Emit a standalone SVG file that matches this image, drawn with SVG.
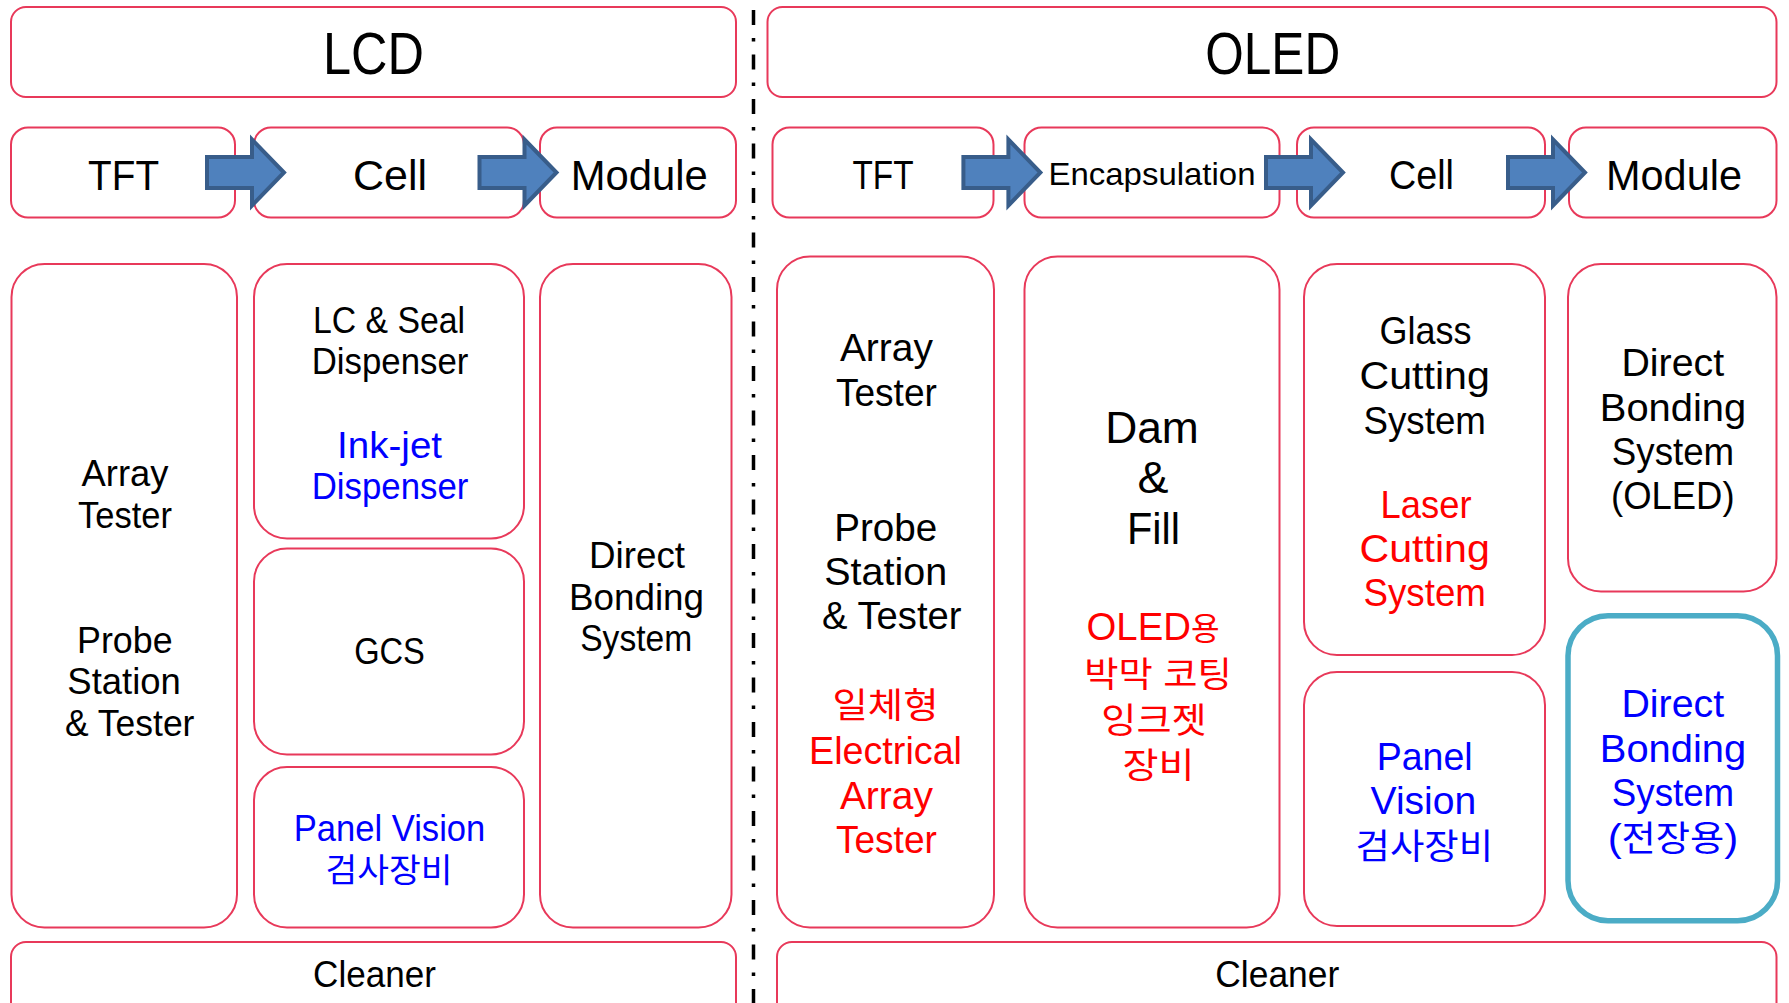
<svg xmlns="http://www.w3.org/2000/svg" width="1789" height="1003" viewBox="0 0 1789 1003">
<defs>
<style>
.box{fill:#fff;stroke:#E8395A;stroke-width:2}
.teal{fill:#fff;stroke:#4BACC6;stroke-width:5.5}
text{font-family:"Liberation Sans","Noto Sans CJK KR",sans-serif;text-anchor:middle;fill:#000}
.b{fill:#0000FF}
.r{fill:#FF0000}
.L{font-size:36.5px}
.O{font-size:39.5px}
.arrow{fill:#4F81BD;stroke:#385D8A;stroke-width:4;stroke-linejoin:miter}
</style>
<path id="arr" class="arrow" d="M2,157 H47 V139.5 L79,172.5 L47,205.5 V188 H2 Z"/>
</defs>
<rect x="0" y="0" width="1789" height="1003" fill="#fff"/>

<g id="divider"><line x1="753.5" y1="10" x2="753.5" y2="1003" stroke="#000" stroke-width="3.5" stroke-dasharray="15 13 3.5 13"/></g>

<!-- LCD side -->
<g id="lcd-title"><rect class="box" x="11" y="7" width="725" height="90" rx="15"/><text x="373.5" y="74" font-size="59" textLength="101" lengthAdjust="spacingAndGlyphs">LCD</text></g>
<g id="lcd-tft"><rect class="box" x="11" y="127.5" width="224" height="90" rx="17"/><text x="123.6" y="190" font-size="43" textLength="71" lengthAdjust="spacingAndGlyphs">TFT</text></g>
<g id="lcd-cell"><rect class="box" x="254" y="127.5" width="270" height="90" rx="17"/><text x="390" y="190" font-size="43" textLength="74" lengthAdjust="spacingAndGlyphs">Cell</text></g>
<g id="lcd-module"><rect class="box" x="540" y="127.5" width="196" height="90" rx="17"/><text x="639.3" y="190" font-size="43" textLength="137" lengthAdjust="spacingAndGlyphs">Module</text></g>

<g id="lcd-tester"><rect class="box" x="11.5" y="264" width="225.5" height="663.5" rx="33"/>
<text class="L" x="125" y="486.3" textLength="87" lengthAdjust="spacingAndGlyphs">Array</text>
<text class="L" x="125" y="527.6" textLength="94" lengthAdjust="spacingAndGlyphs">Tester</text>
<text class="L" x="124.8" y="652.5" textLength="95.5" lengthAdjust="spacingAndGlyphs">Probe</text>
<text class="L" x="124.1" y="694.3" textLength="113.5" lengthAdjust="spacingAndGlyphs">Station</text>
<text class="L" x="129.7" y="736" textLength="129.5" lengthAdjust="spacingAndGlyphs">&amp; Tester</text></g>
<g id="lcd-dispenser"><rect class="box" x="254" y="264" width="270" height="274.5" rx="33"/>
<text class="L" x="389" y="332.6" textLength="152" lengthAdjust="spacingAndGlyphs">LC &amp; Seal</text>
<text class="L" x="390" y="374" textLength="156.7" lengthAdjust="spacingAndGlyphs">Dispenser</text>
<text class="L b" x="389.6" y="457.5" textLength="105" lengthAdjust="spacingAndGlyphs">Ink-jet</text>
<text class="L b" x="390" y="498.8" textLength="156.7" lengthAdjust="spacingAndGlyphs">Dispenser</text></g>
<g id="lcd-gcs"><rect class="box" x="254" y="548.5" width="270" height="206" rx="33"/><text class="L" x="389.5" y="664" textLength="70.7" lengthAdjust="spacingAndGlyphs">GCS</text></g>
<g id="lcd-panel"><rect class="box" x="254" y="767" width="270" height="160.5" rx="33"/>
<text class="L b" x="389.5" y="840.8" textLength="191.6" lengthAdjust="spacingAndGlyphs">Panel Vision</text>
<text class="b" x="389" y="881.5" font-size="33.5" textLength="127" lengthAdjust="spacingAndGlyphs">검사장비</text></g>
<g id="lcd-bonding"><rect class="box" x="540" y="264" width="191.5" height="663.5" rx="33"/>
<text class="L" x="637" y="568" textLength="96" lengthAdjust="spacingAndGlyphs">Direct</text>
<text class="L" x="636.5" y="610.2" textLength="135" lengthAdjust="spacingAndGlyphs">Bonding</text>
<text class="L" x="636.2" y="651" textLength="112" lengthAdjust="spacingAndGlyphs">System</text></g>
<g id="lcd-cleaner"><rect class="box" x="11" y="942" width="725" height="80" rx="15"/><text class="L" x="374.5" y="987.3" textLength="122.8" lengthAdjust="spacingAndGlyphs">Cleaner</text></g>

<!-- OLED side -->
<g id="oled-title"><rect class="box" x="767.5" y="7" width="1009" height="90" rx="15"/><text x="1272.7" y="74" font-size="59" textLength="135" lengthAdjust="spacingAndGlyphs">OLED</text></g>
<g id="oled-tft"><rect class="box" x="772.5" y="127.5" width="221" height="90" rx="17"/><text x="883" y="188.5" font-size="40.5" textLength="61" lengthAdjust="spacingAndGlyphs">TFT</text></g>
<g id="oled-encap"><rect class="box" x="1024.5" y="127.5" width="255" height="90" rx="17"/><text x="1152" y="185" font-size="32" textLength="207" lengthAdjust="spacingAndGlyphs">Encapsulation</text></g>
<g id="oled-cell"><rect class="box" x="1297" y="127.5" width="248" height="90" rx="17"/><text x="1421.5" y="188.5" font-size="40.5" textLength="65" lengthAdjust="spacingAndGlyphs">Cell</text></g>
<g id="oled-module"><rect class="box" x="1569" y="127.5" width="207.5" height="90" rx="17"/><text x="1674" y="190" font-size="43" textLength="136" lengthAdjust="spacingAndGlyphs">Module</text></g>

<g id="oled-tester"><rect class="box" x="777" y="256.5" width="217" height="671" rx="33"/>
<text class="O" x="886.4" y="361.4" textLength="93" lengthAdjust="spacingAndGlyphs">Array</text>
<text class="O" x="886.4" y="406" textLength="101" lengthAdjust="spacingAndGlyphs">Tester</text>
<text class="O" x="885.7" y="540.6" textLength="103" lengthAdjust="spacingAndGlyphs">Probe</text>
<text class="O" x="885.7" y="584.8" textLength="123" lengthAdjust="spacingAndGlyphs">Station</text>
<text class="O" x="891.8" y="629.4" textLength="139.4" lengthAdjust="spacingAndGlyphs">&amp; Tester</text>
<text class="r" x="885.5" y="718" font-size="35" textLength="106" lengthAdjust="spacingAndGlyphs">일체형</text>
<text class="O r" x="885.5" y="764" textLength="153" lengthAdjust="spacingAndGlyphs">Electrical</text>
<text class="O r" x="886.4" y="808.6" textLength="93" lengthAdjust="spacingAndGlyphs">Array</text>
<text class="O r" x="886.4" y="852.8" textLength="101" lengthAdjust="spacingAndGlyphs">Tester</text></g>
<g id="oled-damfill"><rect class="box" x="1024.5" y="256.5" width="255" height="671" rx="33"/>
<text x="1152" y="443" font-size="44" textLength="93.6" lengthAdjust="spacingAndGlyphs">Dam</text>
<text x="1153" y="492.5" font-size="44" textLength="31" lengthAdjust="spacingAndGlyphs">&amp;</text>
<text x="1153.4" y="544" font-size="44" textLength="53" lengthAdjust="spacingAndGlyphs">Fill</text>
<text class="O r" x="1153" y="639.5" textLength="133" lengthAdjust="spacingAndGlyphs">OLED<tspan font-size="32">용</tspan></text>
<text class="r" x="1158" y="687" font-size="35" textLength="147.5" lengthAdjust="spacingAndGlyphs">박막 코팅</text>
<text class="r" x="1154" y="733" font-size="35" textLength="105.5" lengthAdjust="spacingAndGlyphs">잉크젯</text>
<text class="r" x="1158.5" y="777.5" font-size="35" textLength="72" lengthAdjust="spacingAndGlyphs">장비</text></g>
<g id="oled-cutting"><rect class="box" x="1304" y="264" width="241" height="391" rx="33"/>
<text class="O" x="1425.4" y="343.7" textLength="92" lengthAdjust="spacingAndGlyphs">Glass</text>
<text class="O" x="1424.7" y="389.3" textLength="130.4" lengthAdjust="spacingAndGlyphs">Cutting</text>
<text class="O" x="1424.7" y="433.5" textLength="122.4" lengthAdjust="spacingAndGlyphs">System</text>
<text class="O r" x="1426" y="517.5" textLength="91" lengthAdjust="spacingAndGlyphs">Laser</text>
<text class="O r" x="1424.7" y="562.2" textLength="130.4" lengthAdjust="spacingAndGlyphs">Cutting</text>
<text class="O r" x="1424.7" y="606.4" textLength="122.4" lengthAdjust="spacingAndGlyphs">System</text></g>
<g id="oled-panel"><rect class="box" x="1304" y="672" width="241" height="254" rx="33"/>
<text class="O b" x="1424.7" y="769.7" textLength="96" lengthAdjust="spacingAndGlyphs">Panel</text>
<text class="O b" x="1423.4" y="814.4" textLength="105.7" lengthAdjust="spacingAndGlyphs">Vision</text>
<text class="b" x="1424.3" y="858.5" font-size="35" textLength="137.6" lengthAdjust="spacingAndGlyphs">검사장비</text></g>
<g id="oled-bonding"><rect class="box" x="1568" y="264" width="208.5" height="327.5" rx="33"/>
<text class="O" x="1672.8" y="375.8" textLength="102.7" lengthAdjust="spacingAndGlyphs">Direct</text>
<text class="O" x="1673" y="420.5" textLength="146.4" lengthAdjust="spacingAndGlyphs">Bonding</text>
<text class="O" x="1673" y="464.7" textLength="122.4" lengthAdjust="spacingAndGlyphs">System</text>
<text class="O" x="1672.8" y="509.4" textLength="123.5" lengthAdjust="spacingAndGlyphs">(OLED)</text></g>
<g id="oled-bonding-auto"><rect class="teal" x="1568" y="615.7" width="209.5" height="305" rx="40"/>
<text class="O b" x="1672.8" y="716.9" textLength="102.7" lengthAdjust="spacingAndGlyphs">Direct</text>
<text class="O b" x="1673" y="761.5" textLength="146.4" lengthAdjust="spacingAndGlyphs">Bonding</text>
<text class="O b" x="1673" y="806.2" textLength="122.4" lengthAdjust="spacingAndGlyphs">System</text>
<text class="O b" x="1673" y="851.3" textLength="130.7" lengthAdjust="spacingAndGlyphs">(<tspan font-size="35">전장용</tspan>)</text></g>
<g id="oled-cleaner"><rect class="box" x="777" y="942" width="999.5" height="80" rx="15"/><text class="L" x="1277.3" y="987.3" textLength="124" lengthAdjust="spacingAndGlyphs">Cleaner</text></g>

<g id="connectors">
<use href="#arr" x="205"/>
<use href="#arr" x="477.5"/>
<use href="#arr" x="961.4"/>
<use href="#arr" x="1264"/>
<use href="#arr" x="1506"/>
</g>
</svg>
